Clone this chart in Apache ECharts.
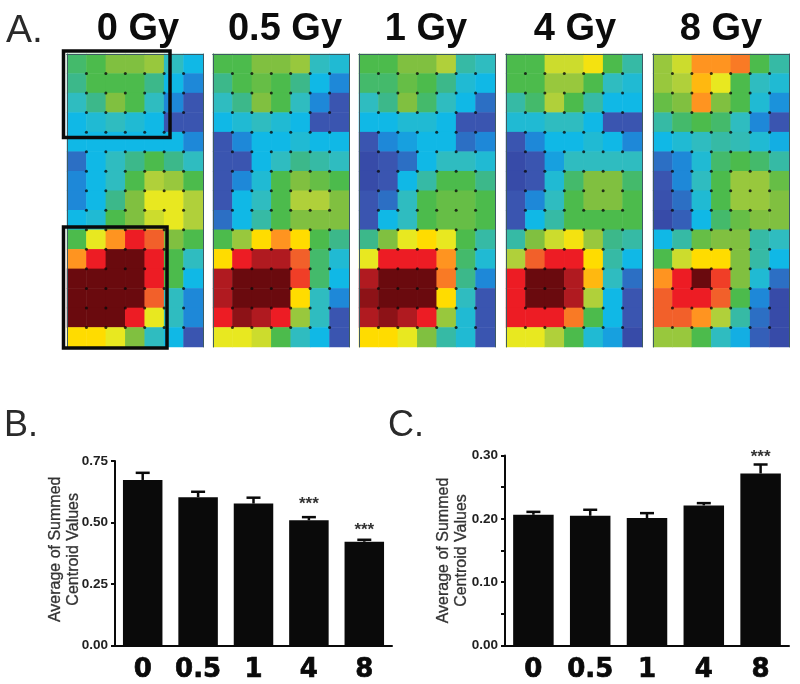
<!DOCTYPE html>
<html><head><meta charset="utf-8">
<style>html,body{margin:0;padding:0;background:#fff}#c{width:800px;height:684px}</style>
<script src="https://cdn.jsdelivr.net/npm/echarts@6/dist/echarts.min.js"></script>
</head><body><div id="c"></div>
<script>
// Heatmap levels: 0 (dark blue) ... 15 (maroon); rows top to bottom, 7 columns
const gy0 = [
 [5.5,6,7,7,7.5,4,3],[5,6,6,6,5,3,2],[4,5,7,6,4,2,1],[3,3.5,4,3.5,3,1,1],[3,3,3,3,3,3,2],
 [1.5,3,4,5,6,5,4],[2,3,4,6,8,7.5,6],[2,3,5,7,9,9,8],[3,3.5,6,7,8.5,9,8],
 [6,9,11,13,12,7,6],[11,13,15,15,13,6,4],[15,15,15,15,13,6,3],[15,15,15,15,12,4,2],[15,15,15,13,9,4,2],[10,10,9,7,4,3,1]];
const gy05 = [
 [6,6,7,7,7.5,4,3.5],[5,6,6.5,6,5,3,2],[4,5,7,6,4,2,1],[3,3.5,4,3.5,3,1,1],[1,2,3,3,3.5,3,3],
 [1,1,3,4,5,4.5,4],[1,2,3.5,6,7,6.5,6],[1,3,4,6,8,8,7],[1.5,3,4.5,6,7,7,7],
 [6,7.5,10,11,10,6,5],[10,13,14,14,12,5.5,3.5],[14,15,15,15,12.5,5.5,3],[14,15,15,15,10,4,2],[13,14.5,14,13,7.5,4,1],[9,9,8.5,6,4,3,1]];
const gy1 = [
 [6,6,7,7,8,4.5,4],[5.5,5.5,6.5,6,5,3.5,3],[4,5,7,5.5,4,3,1.5],[3,3,3.5,3.5,3,1,1],[1,2,2.5,3,3,1.5,2],
 [0.5,1,1.5,3,4,4,3.5],[0.5,1,3,4.5,6,6,5],[1,1.5,4,6,6.5,6.5,6],[1,3,4,6,6.5,6.5,6],
 [5,7,9,10,9,6,4.5],[9,13,13,13,11,5.5,3.5],[14,15,15,15,11.5,5,2],[14.5,15,15,15,10,4,1],[14,14.5,14,13,7.5,3.5,1],[10,10,9,7,4.5,3.5,1]];
const gy4 = [
 [6,6,8.5,8.5,9.5,6,4.5],[6,6,7.5,7.5,6,4,3.5],[4.5,5.5,8,6,4.5,3,3],[3.5,3.5,4,4,3,1,1],[1,2,3,3,3.5,3,2],
 [0.5,1,2.5,4,4,4,4],[0.5,1,3.5,5.5,7,7,5.5],[1,2,4,6,7,7,6],[1,3,4.5,6,6,6,6],
 [4.5,7,8.5,9.5,7.5,5,4.5],[8,12,13,13,10,4.5,3],[13,15,15,14,10.5,4,1.5],[13,15,15,14,8,3,1],[13,13,13,11.5,6,3,1],[9,9,8,6,3.5,2.5,0.5]];
const gy8 = [
 [7.5,8.5,11,11,11.5,6,4.5],[7.5,8,10.5,9,6,4,3.5],[6.5,7,11,7,6,3.5,2.2],[4.5,5.5,6,5.5,4,2,1],[3,3.5,4,4.5,4.2,3.5,2.8],
 [1.5,2,3.5,5.5,6,5.5,4.5],[1,2,4,6,7.5,7.5,6.5],[0.8,1.5,3.5,6,7.5,7.5,7],[0.5,1.2,3,5.5,6.5,7,7],
 [3,4.5,6.5,7,7,4.5,4],[6,8.5,10,10,7,4.5,3],[11,13,15,12.5,7,3.5,1.5],[12,13,13,12,6,2,0.5],[12,12,11,8,4.5,1.5,0.5],[7.5,7.5,6,4,2.8,1.2,0.5]];
const doseTitles = ['0 Gy','0.5 Gy','1 Gy','4 Gy','8 Gy'];
const titleLeft = [133,280,421,570,716];
const panelLeft = [67,213,359,506,653];
const panelWidth = 136, panelTop = 54, panelHeight = 293;
const levelColors = ['#34409f','#3a55b0','#1e88d8','#10b8e6','#2fbcc0','#3cb88a','#4cbb4c','#80c040','#b0d03a','#e8e820','#ffdc00','#ff9420','#f2602a','#ed1c24','#b01a20','#6a0a0e'];

const doses = ['0','0.5','1','4','8'];
const bValues = [0.673,0.603,0.577,0.509,0.422];
const bUpper  = [0.702,0.625,0.601,0.522,0.430];
const bStars  = [null,null,null,0.573,0.468];
const cValues = [0.2064,0.2048,0.2012,0.2212,0.2716];
const cUpper  = [0.2110,0.2143,0.2090,0.2248,0.2858];
const cStars  = [null,null,null,null,0.2975];

const FONT = '"Liberation Sans", Arial, sans-serif';
const panels = [gy0,gy05,gy1,gy4,gy8];
const colCats = [0,1,2,3,4,5,6], rowCats = [...Array(15).keys()];

const grids=[],xAxes=[],yAxes=[],series=[],titles=[];
const thin = {show:true,lineStyle:{color:'#3d5a62',width:1}};
const hiddenCat = (idx,data,extra)=>Object.assign({type:'category',gridIndex:idx,data,axisLine:thin,axisTick:{show:false},axisLabel:{show:false},splitLine:{show:false},z:6},extra||{});
const valAxis = (idx,max,extra)=>Object.assign({type:'value',gridIndex:idx,min:0,max,interval:1,axisLine:thin,axisTick:{show:false},axisLabel:{show:false},splitLine:{show:false},z:6},extra||{});
const heatIdx=[];
panels.forEach((rows,p)=>{
  grids.push({left:panelLeft[p],top:panelTop,width:panelWidth,height:panelHeight});
  xAxes.push(hiddenCat(p,colCats,{position:'bottom'}));
  xAxes.push(valAxis(p,7,{position:'top'}));
  yAxes.push(hiddenCat(p,rowCats,{inverse:true,position:'left'}));
  yAxes.push(valAxis(p,15,{inverse:true,position:'right'}));
  const cells=[],dots=[];
  rows.forEach((row,r)=>row.forEach((v,c)=>{
    cells.push([c,r,v]);
    if(r>0&&c>0) dots.push([c,r]);
  }));
  heatIdx.push(series.length);
  series.push({type:'heatmap',xAxisIndex:2*p,yAxisIndex:2*p,data:cells,itemStyle:{borderWidth:0},progressive:0,silent:true});
  series.push({type:'scatter',xAxisIndex:2*p+1,yAxisIndex:2*p+1,data:dots,symbolSize:3,itemStyle:{color:'#0a0a0a'},silent:true,z:4});
  titles.push({text:doseTitles[p],left:titleLeft[p],top:6,textAlign:'center',textStyle:{fontFamily:FONT,fontWeight:'bold',fontSize:38,color:'#0c0c0c'}});
});
[['A.',1,7,39],['B.',-1,403,36],['C.',383,403,36]].forEach(([t,l,tp,fs])=>titles.push({text:t,left:l,top:tp,textStyle:{fontFamily:FONT,fontWeight:'normal',fontSize:fs,color:'#2a2a2a'}}));

const doseStars={};
const errItem = (params,api)=>{
  const i=api.value(0),lo=api.coord([i,api.value(1)]),hi=api.coord([i,api.value(2)]),star=doseStars[params.seriesIndex][i];
  const style={stroke:'#0a0a0a',lineWidth:2.5,fill:null};
  const ch=[
    {type:'line',shape:{x1:lo[0],y1:lo[1],x2:lo[0],y2:hi[1]},style},
    {type:'line',shape:{x1:lo[0]-7,y1:hi[1],x2:lo[0]+7,y2:hi[1]},style}];
  if(star!==null) ch.push({type:'text',style:{text:'***',x:lo[0],y:api.coord([i,star])[1],align:'center',verticalAlign:'middle',font:'bold 17px '+FONT,fill:'#333'}});
  return {type:'group',children:ch};
};
function addBars(g,left,top,width,height,max,interval,minor,vals,upper,stars,barW,nameGap,namePad){
  grids.push({left,top,width,height});
  xAxes.push({type:'category',gridIndex:g,data:doses,axisLine:{lineStyle:{color:'#0a0a0a',width:2}},axisTick:{alignWithLabel:true,length:4,lineStyle:{color:'#0a0a0a',width:2}},
    axisLabel:{margin:12,fontFamily:'"DejaVu Sans", sans-serif',fontWeight:'bold',fontSize:26,color:'#0a0a0a',textBorderColor:'#0a0a0a',textBorderWidth:0.7,interval:0}});
  yAxes.push({type:'value',gridIndex:g,min:0,max,interval,
    name:'Average of Summed\nCentroid Values',nameLocation:'middle',nameRotate:90,nameGap,nameMoveOverlap:false,
    nameTextStyle:{fontFamily:FONT,fontSize:16,lineHeight:18,color:'#333',fontWeight:'normal',textBorderColor:'#333',textBorderWidth:0.3,padding:[0,0,0,namePad]},
    axisLine:{show:true,lineStyle:{color:'#0a0a0a',width:2}},axisTick:{show:true,length:4,lineStyle:{color:'#0a0a0a',width:2}},
    minorTick:minor?{show:true,splitNumber:2,length:4,lineStyle:{color:'#0a0a0a',width:2}}:{show:false},
    axisLabel:{margin:7,fontFamily:FONT,fontWeight:'bold',fontSize:13.5,color:'#222',formatter:v=>v.toFixed(2)},splitLine:{show:false}});
  const xi=xAxes.length-1,yi=yAxes.length-1;
  series.push({type:'bar',xAxisIndex:xi,yAxisIndex:yi,data:vals,barWidth:barW,itemStyle:{color:'#0a0a0a'},silent:true,z:3});
  doseStars[series.length]=stars;
  series.push({type:'custom',xAxisIndex:xi,yAxisIndex:yi,data:vals.map((v,i)=>[i,v,upper[i]]),renderItem:errItem,silent:true,z:2,encode:{x:0,y:[1,2]}});
}
addBars(5,115,461,277,185,0.75,0.25,false,bValues,bUpper,bStars,39.5,32,8);
addBars(6,505,455.5,284,190,0.30,0.10,true,cValues,cUpper,cStars,40.5,34.5,0);

const chart=echarts.init(document.getElementById('c'),null,{renderer:'canvas'});
chart.setOption({
  animation:false,backgroundColor:'#ffffff',
  title:titles,grid:grids,xAxis:xAxes,yAxis:yAxes,series,
  visualMap:{show:false,type:'continuous',min:0,max:15,dimension:2,seriesIndex:heatIdx,inRange:{color:levelColors}},
  graphic:[
    {type:'rect',z:50,shape:{x:63.5,y:51,width:106.5,height:86.5},style:{fill:null,stroke:'#0a0a0a',lineWidth:3.5}},
    {type:'rect',z:50,shape:{x:63.5,y:227,width:103.5,height:121},style:{fill:null,stroke:'#0a0a0a',lineWidth:3.5}}
  ]
});
</script></body></html>
